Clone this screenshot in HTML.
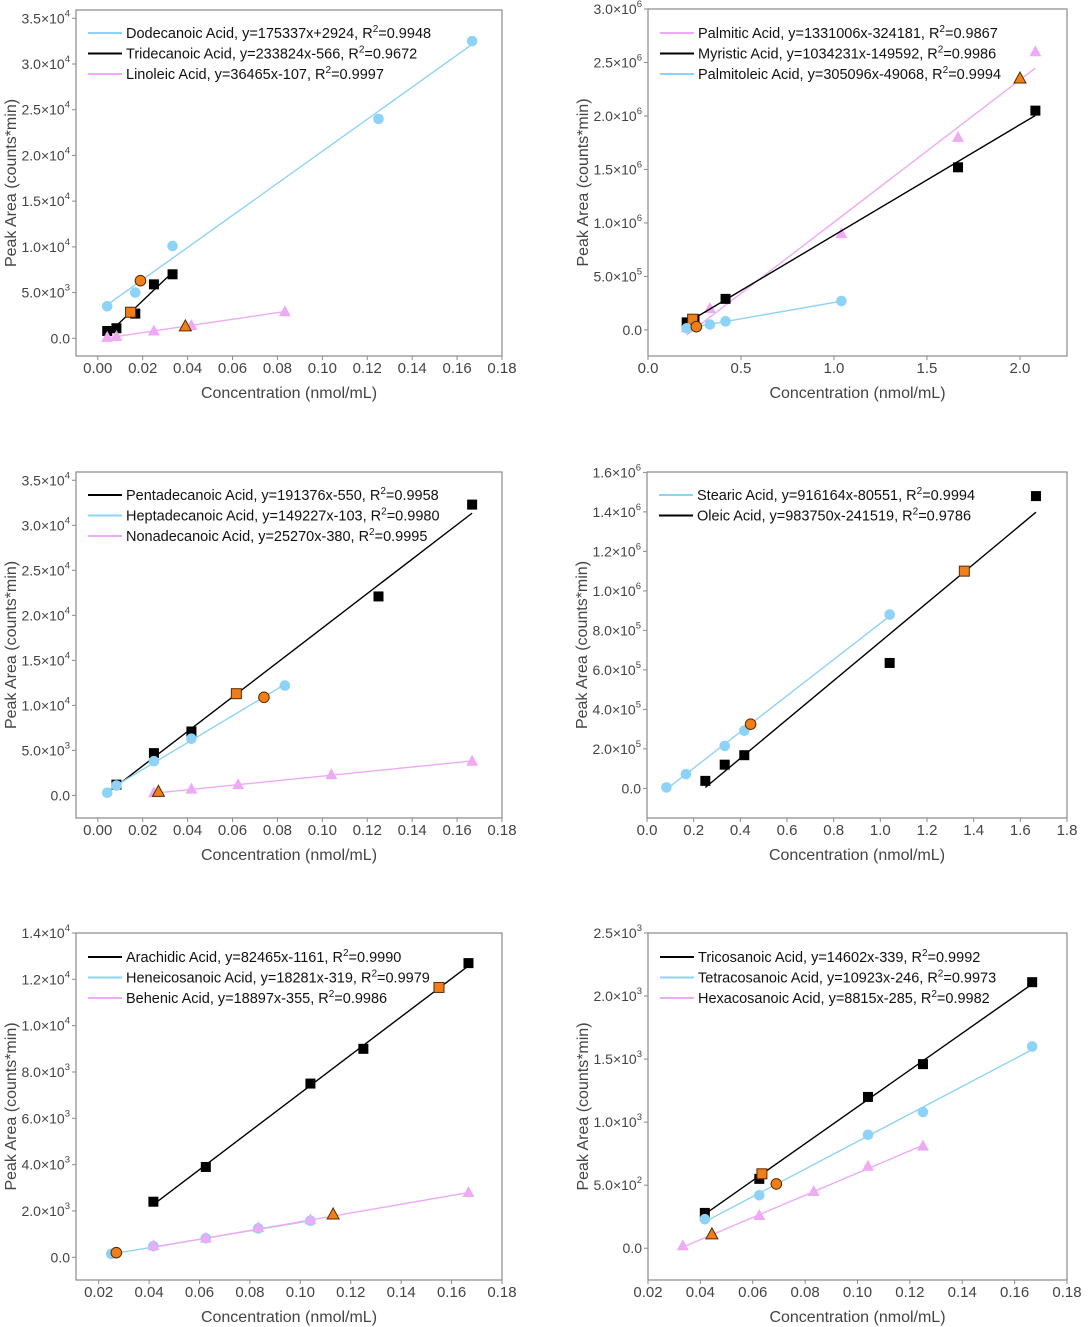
<!DOCTYPE html>
<html><head><meta charset="utf-8">
<style>
html,body{margin:0;padding:0;background:#fff;}
svg{display:block;font-family:"Liberation Sans",Arial,sans-serif;}
</style></head>
<body>
<svg id="fig" width="1092" height="1327" viewBox="0 0 1092 1327"></svg>
<script>
// ---- Panel 1 data ----
const p1X = [0.0042, 0.0167, 0.0333, 0.125, 0.1667];
const p1Dodecanoic = [3500, 5000, 10100, 24000, 32500];
const p1TrideX = [0.0042, 0.0083, 0.0167, 0.025, 0.0333];
const p1Tridecanoic = [800, 1100, 2700, 5900, 7000];
const p1LinoX = [0.0042, 0.0083, 0.025, 0.0417, 0.0833];
const p1Linoleic = [100, 200, 800, 1400, 2900];
// ---- Panel 2 data ----
const p2PalmX = [0.208, 0.333, 1.04, 1.667, 2.083];
const p2Palmitic = [20000, 200000, 900000, 1800000, 2600000];
const p2MyrX = [0.208, 0.25, 0.417, 1.667, 2.083];
const p2Myristic = [70000, 100000, 290000, 1520000, 2050000];
const p2PolX = [0.208, 0.333, 0.417, 1.04];
const p2Palmitoleic = [15000, 50000, 80000, 270000];
// ---- Panel 3 data ----
const p3PentX = [0.0083, 0.025, 0.0417, 0.125, 0.1667];
const p3Pentadecanoic = [1200, 4700, 7100, 22100, 32300];
const p3HeptX = [0.0042, 0.0083, 0.025, 0.0417, 0.0833];
const p3Heptadecanoic = [300, 1100, 3800, 6300, 12200];
const p3NonX = [0.025, 0.0417, 0.0625, 0.104, 0.1667];
const p3Nonadecanoic = [300, 700, 1200, 2300, 3800];
// ---- Panel 4 data ----
const p4StX = [0.083, 0.167, 0.333, 0.417, 1.04];
const p4Stearic = [5000, 72000, 215000, 292000, 880000];
const p4OlX = [0.25, 0.333, 0.417, 1.04, 1.667];
const p4Oleic = [38000, 120000, 168000, 635000, 1480000];
// ---- Panel 5 data ----
const p5ArX = [0.0417, 0.0625, 0.104, 0.125, 0.1667];
const p5Arachidic = [2400, 3900, 7500, 9000, 12700];
const p5HenX = [0.025, 0.0417, 0.0625, 0.0833, 0.104];
const p5Heneicosanoic = [150, 480, 820, 1250, 1580];
const p5BehX = [0.0417, 0.0625, 0.0833, 0.104, 0.1667];
const p5Behenic = [500, 830, 1280, 1620, 2800];
// ---- Panel 6 data ----
const p6TriX = [0.0417, 0.0625, 0.104, 0.125, 0.1667];
const p6Tricosanoic = [280, 550, 1200, 1460, 2110];
const p6TetX = [0.0417, 0.0625, 0.104, 0.125, 0.1667];
const p6Tetracosanoic = [230, 420, 900, 1080, 1600];
const p6HexX = [0.0333, 0.0625, 0.0833, 0.104, 0.125];
const p6Hexacosanoic = [20, 260, 450, 650, 810];
// ---- fit slopes/intercepts (from legends) ----
const slopes = [[175337,233824,36465],[1331006,1034231,305096],[191376,149227,25270],[916164,983750],[82465,18281,18897],[14602,10923,8815]];
const intercepts = [[2924,-566,-107],[-324181,-149592,-49068],[-550,-103,-380],[-80551,-241519],[-1161,-319,-355],[-339,-246,-285]];
// ---- orange (sample) points, ordered like the legend series ----
const orangeX = [[0.019,0.0146,0.039],[2.0,0.24,0.26],[0.0617,0.074,0.027],[0.444,1.36],[0.155,0.027,0.113],[0.0635,0.069,0.0444]];
const orangeY = [[6300,2850,1300],[2350000,100000,30000],[11300,10900,400],[325000,1100000],[11650,200,1850],[590,510,110]];
// ---- tick values ----
const xTicksA = [0,0.02,0.04,0.06,0.08,0.10,0.12,0.14,0.16,0.18];
const xTicksB = [0,0.5,1.0,1.5,2.0];
const xTicksC = [0,0.2,0.4,0.6,0.8,1.0,1.2,1.4,1.6,1.8];
const xTicksD = [0.02,0.04,0.06,0.08,0.10,0.12,0.14,0.16,0.18];
const yTicks1 = [0,5000,10000,15000,20000,25000,30000,35000];
const yTicks2 = [0,500000,1000000,1500000,2000000,2500000,3000000];
const yTicks4 = [0,200000,400000,600000,800000,1000000,1200000,1400000,1600000];
const yTicks5 = [0,2000,4000,6000,8000,10000,12000,14000];
const yTicks6 = [0,500,1000,1500,2000,2500];

const BLUE="#8dd3f7", PINK="#eeaaf5", BLACK="#000", ORANGE="#f07f1a";
const NS="http://www.w3.org/2000/svg";
const svg=document.getElementById('fig');
function mk(tag,attrs,parent){const e=document.createElementNS(NS,tag);for(const k in attrs)e.setAttribute(k,attrs[k]);(parent||svg).appendChild(e);return e;}

function yLabel(v){
  if(v===0) return ['0.0',null];
  const e=Math.floor(Math.log10(v)+1e-9); const m=v/Math.pow(10,e);
  return [m.toFixed(1)+'\u00d710', String(e)];
}

function marker(g,shape,cx,cy,color,stroke,name){
  let el;
  if(shape==='circle') el=mk('circle',{cx:cx,cy:cy,r:5.3,fill:color,stroke:stroke||'none','stroke-width':1},g);
  else if(shape==='square') el=mk('rect',{x:cx-5,y:cy-5,width:10,height:10,fill:color,stroke:stroke||'none','stroke-width':1},g);
  else el=mk('polygon',{points:`${cx},${cy-6.5} ${cx-6},${cy+4.5} ${cx+6},${cy+4.5}`,fill:color,stroke:stroke||'none','stroke-width':1},g);
  
  
  return el;
}

function panel(cfg){
  const g=mk('g',{});
  
  
  const L=cfg.L,R=cfg.R,T=cfg.T,B=cfg.B;
  const sx=v=>L+(v-cfg.xd[0])/(cfg.xd[1]-cfg.xd[0])*(R-L);
  const sy=v=>B-(v-cfg.yd[0])/(cfg.yd[1]-cfg.yd[0])*(B-T);
  const frame=mk('rect',{x:L,y:T,width:R-L,height:B-T,fill:'none',stroke:'#8a8a8a','stroke-width':1.2},g);
  
  
  cfg.xt.forEach(v=>{
    const x=sx(v);
    mk('line',{x1:x,x2:x,y1:B,y2:B+4,stroke:'#8a8a8a'},g);
    const t=mk('text',{x:x,y:B+17,'font-size':15,fill:'#444','text-anchor':'middle'},g);
    t.textContent=v.toFixed(cfg.xdec);
    
    
  });
  cfg.yt.forEach(v=>{
    const y=sy(v);
    mk('line',{x1:L-4,x2:L,y1:y,y2:y,stroke:'#8a8a8a'},g);
    const [a,e]=yLabel(v);
    const t=mk('text',{x:L-6,y:y+5,'font-size':14,fill:'#444','text-anchor':'end'},g);
    
    
    const s1=mk('tspan',{},t); s1.textContent=a;
    if(e){const s2=mk('tspan',{'font-size':9.5,dy:-7},t); s2.textContent=e;}
  });
  const xt=mk('text',{x:(L+R)/2,y:B+42,'font-size':16,fill:'#444','text-anchor':'middle'},g);
  xt.textContent='Concentration (nmol/mL)';
  
  
  const yx=L-60, yc=(T+B)/2;
  const yt=mk('text',{x:yx,y:yc,'font-size':16,fill:'#444','text-anchor':'middle',transform:`rotate(-90 ${yx} ${yc})`},g);
  yt.textContent='Peak Area (counts*min)';
  
  
  // series
  cfg.series.forEach((s,i)=>{
    const x0=Math.min(...s.x), x1=Math.max(...s.x);
    const m=slopes[cfg.idx][i], b=intercepts[cfg.idx][i];
    const ln=mk('line',{x1:sx(x0),y1:sy(m*x0+b),x2:sx(x1),y2:sy(m*x1+b),stroke:s.color,'stroke-width':1.4},g);
    
    
    s.x.forEach((xv,j)=>marker(g,s.shape,sx(xv),sy(s.y[j]),s.color,null,s.key+'-point'));
    marker(g,s.shape,sx(orangeX[cfg.idx][i]),sy(orangeY[cfg.idx][i]),ORANGE,'#5a2a00',s.key+'-sample-point');
  });
  // legend
  cfg.series.forEach((s,i)=>{
    const y=cfg.legY+i*20.5;
    const lg=mk('g',{},g);
    
    
    mk('line',{x1:L+12,x2:L+46,y1:y,y2:y,stroke:s.color,'stroke-width':2},lg);
    const t=mk('text',{x:L+50,y:y+5,'font-size':14.5,fill:'#111'},lg);
    const a=mk('tspan',{},t); a.textContent=s.label+', y='+s.eq+', R';
    const sp=mk('tspan',{'font-size':10,dy:-6},t); sp.textContent='2';
    const c=mk('tspan',{dy:6},t); c.textContent='='+s.r2;
  });
}

panel({name:'panel-c12-c13-c18-2',idx:0,L:76,R:502,T:10,B:356,xd:[-0.0097,0.18],yd:[-1936,35908],xt:xTicksA,xdec:2,yt:yTicks1,legY:33,
 series:[{key:'dodecanoic',label:'Dodecanoic Acid',eq:'175337x+2924',r2:'0.9948',x:p1X,y:p1Dodecanoic,color:BLUE,shape:'circle'},
         {key:'tridecanoic',label:'Tridecanoic Acid',eq:'233824x-566',r2:'0.9672',x:p1TrideX,y:p1Tridecanoic,color:BLACK,shape:'square'},
         {key:'linoleic',label:'Linoleic Acid',eq:'36465x-107',r2:'0.9997',x:p1LinoX,y:p1Linoleic,color:PINK,shape:'triangle'}]});
panel({name:'panel-c16-c14-c16-1',idx:1,L:648,R:1067,T:9,B:356,xd:[0,2.253],yd:[-244000,3000000],xt:xTicksB,xdec:1,yt:yTicks2,legY:33,
 series:[{key:'palmitic',label:'Palmitic Acid',eq:'1331006x-324181',r2:'0.9867',x:p2PalmX,y:p2Palmitic,color:PINK,shape:'triangle'},
         {key:'myristic',label:'Myristic Acid',eq:'1034231x-149592',r2:'0.9986',x:p2MyrX,y:p2Myristic,color:BLACK,shape:'square'},
         {key:'palmitoleic',label:'Palmitoleic Acid',eq:'305096x-49068',r2:'0.9994',x:p2PolX,y:p2Palmitoleic,color:BLUE,shape:'circle'}]});
panel({name:'panel-c15-c17-c19',idx:2,L:76,R:502,T:472,B:818,xd:[-0.0097,0.18],yd:[-2505,35920],xt:xTicksA,xdec:2,yt:yTicks1,legY:495,
 series:[{key:'pentadecanoic',label:'Pentadecanoic Acid',eq:'191376x-550',r2:'0.9958',x:p3PentX,y:p3Pentadecanoic,color:BLACK,shape:'square'},
         {key:'heptadecanoic',label:'Heptadecanoic Acid',eq:'149227x-103',r2:'0.9980',x:p3HeptX,y:p3Heptadecanoic,color:BLUE,shape:'circle'},
         {key:'nonadecanoic',label:'Nonadecanoic Acid',eq:'25270x-380',r2:'0.9995',x:p3NonX,y:p3Nonadecanoic,color:PINK,shape:'triangle'}]});
panel({name:'panel-c18-c18-1',idx:3,L:647,R:1067,T:472,B:818,xd:[0,1.8],yd:[-150000,1602000],xt:xTicksC,xdec:1,yt:yTicks4,legY:495,
 series:[{key:'stearic',label:'Stearic Acid',eq:'916164x-80551',r2:'0.9994',x:p4StX,y:p4Stearic,color:BLUE,shape:'circle'},
         {key:'oleic',label:'Oleic Acid',eq:'983750x-241519',r2:'0.9786',x:p4OlX,y:p4Oleic,color:BLACK,shape:'square'}]});
panel({name:'panel-c20-c21-c22',idx:4,L:76,R:502,T:933,B:1280,xd:[0.011,0.18],yd:[-980,14000],xt:xTicksD,xdec:2,yt:yTicks5,legY:957,
 series:[{key:'arachidic',label:'Arachidic Acid',eq:'82465x-1161',r2:'0.9990',x:p5ArX,y:p5Arachidic,color:BLACK,shape:'square'},
         {key:'heneicosanoic',label:'Heneicosanoic Acid',eq:'18281x-319',r2:'0.9979',x:p5HenX,y:p5Heneicosanoic,color:BLUE,shape:'circle'},
         {key:'behenic',label:'Behenic Acid',eq:'18897x-355',r2:'0.9986',x:p5BehX,y:p5Behenic,color:PINK,shape:'triangle'}]});
panel({name:'panel-c23-c24-c26',idx:5,L:648,R:1067,T:933,B:1280,xd:[0.02,0.18],yd:[-252,2500],xt:xTicksD,xdec:2,yt:yTicks6,legY:957,
 series:[{key:'tricosanoic',label:'Tricosanoic Acid',eq:'14602x-339',r2:'0.9992',x:p6TriX,y:p6Tricosanoic,color:BLACK,shape:'square'},
         {key:'tetracosanoic',label:'Tetracosanoic Acid',eq:'10923x-246',r2:'0.9973',x:p6TetX,y:p6Tetracosanoic,color:BLUE,shape:'circle'},
         {key:'hexacosanoic',label:'Hexacosanoic Acid',eq:'8815x-285',r2:'0.9982',x:p6HexX,y:p6Hexacosanoic,color:PINK,shape:'triangle'}]});
</script>
</body></html>
